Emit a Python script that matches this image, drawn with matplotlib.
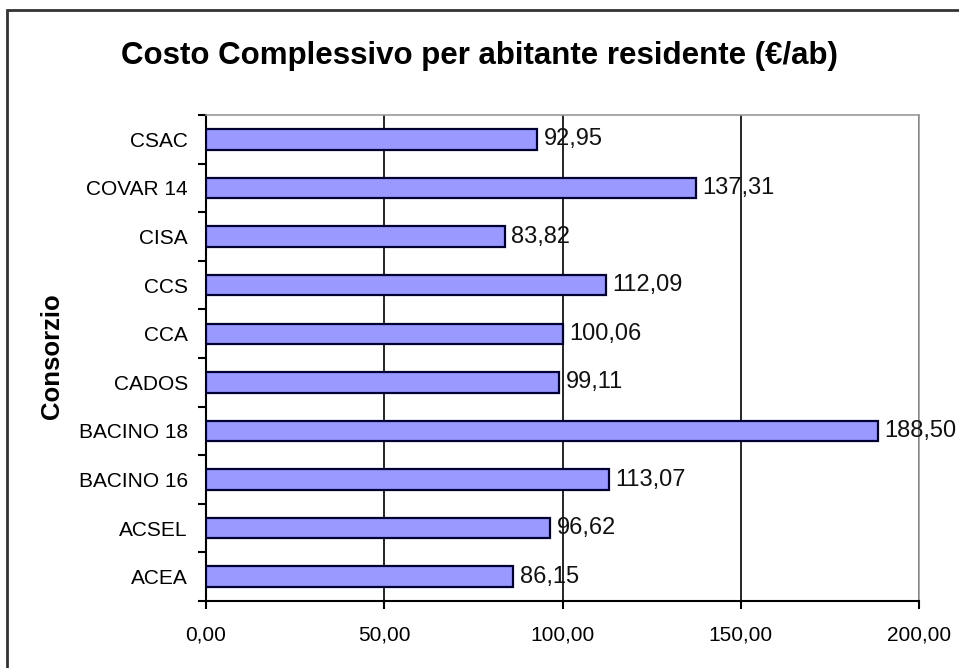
import matplotlib
matplotlib.use("Agg")
import matplotlib.pyplot as plt
import numpy as np
from matplotlib.patches import Rectangle

plt.rcParams['font.family'] = ['Liberation Sans', 'DejaVu Sans']

# data, bottom to top
consorzi = ["ACEA", "ACSEL", "BACINO 16", "BACINO 18", "CADOS", "CCA",
            "CCS", "CISA", "COVAR 14", "CSAC"]
costo = [86.15, 96.62, 113.07, 188.50, 99.11, 100.06, 112.09, 83.82, 137.31, 92.95]
xticks = [0, 50, 100, 150, 200]

fig = plt.figure(figsize=(9.59, 6.68), dpi=100)
ax = fig.add_axes([0.2148, 0.1003, 0.7435, 0.7275])

y = np.arange(len(consorzi))
ax.barh(y, costo, height=0.42, color="#9999FF", edgecolor="#000033", linewidth=1.6, zorder=3)

for yi, v in zip(y, costo):
    ax.text(v + 1.8, yi, f"{v:.2f}".replace(".", ","), va="center", ha="left",
            fontsize=17, color="#111111", zorder=5, clip_on=False)

ax.set_xlim(0, 200)
ax.set_ylim(-0.5, len(consorzi) - 0.5)
ax.set_xticks(xticks)
ax.set_xticklabels([f"{t:.2f}".replace(".", ",") for t in xticks], fontsize=15)
ax.set_yticks(y)
ax.set_yticklabels(consorzi, fontsize=15)
ax.set_yticks(np.arange(-0.5, len(consorzi), 1.0), minor=True)
ax.tick_params(axis="y", which="major", length=0, pad=13)
ax.tick_params(axis="y", which="minor", length=6, width=1.5, direction="out")
ax.tick_params(axis="x", length=6, width=1.5, direction="out", pad=12)

ax.xaxis.grid(True, color="black", linewidth=1.2, zorder=0)
ax.set_axisbelow(True)
for s in ["top", "right"]:
    ax.spines[s].set_color("#999999")
    ax.spines[s].set_linewidth(1.2)
for s in ["left", "bottom"]:
    ax.spines[s].set_color("black")
    ax.spines[s].set_linewidth(1.5)

fig.text(52 / 959, 1 - 356 / 668, "Consorzio", rotation=90, ha="center", va="center",
         fontsize=18.5, fontweight="bold")
fig.text(0.5, 1 - 56 / 668, "Costo Complessivo per abitante residente (€/ab)",
         ha="center", va="center", fontsize=22.5, fontweight="bold")

# outer chart border
fig.patches.append(Rectangle((7 / 959, -0.1), 1.1, 1.1 - 10 / 668,
                             transform=fig.transFigure, fill=False,
                             edgecolor="#333333", linewidth=2))

fig.savefig("out.png", dpi=100)
